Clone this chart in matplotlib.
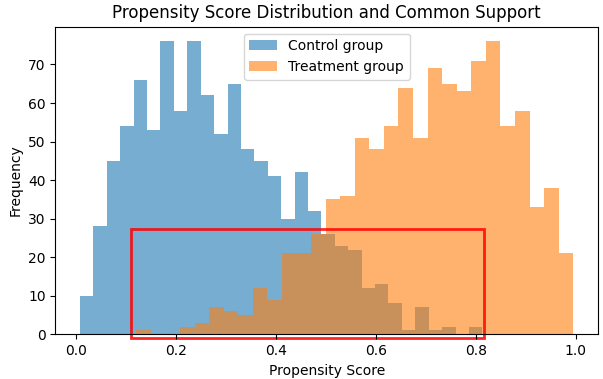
import numpy as np
import matplotlib
matplotlib.use("Agg")
import matplotlib.pyplot as plt
from matplotlib.patches import Rectangle

# Histogram bin ranges (30 equal bins each)
control_range = (0.008, 0.813)
treatment_range = (0.1206, 0.995)
control_counts = [10, 28, 45, 54, 66, 53, 76, 58, 76, 62, 52, 65, 48, 45, 41,
                  30, 42, 32, 26, 23, 22, 12, 13, 8, 1, 7, 1, 2, 0, 2]
treatment_counts = [1, 0, 0, 2, 3, 7, 6, 5, 12, 9, 21, 21, 26, 35, 36,
                    51, 48, 54, 64, 51, 69, 65, 63, 71, 76, 54, 58, 33, 38, 21]
# Common support box
support_x = (0.111, 0.8165)
support_y = (-1.0, 27.2)

fig = plt.figure(figsize=(6.03, 3.79), dpi=100)
ax = fig.add_axes([0.0917, 0.1179, 0.9, 0.8117])

c_edges = np.linspace(control_range[0], control_range[1], len(control_counts) + 1)
t_edges = np.linspace(treatment_range[0], treatment_range[1], len(treatment_counts) + 1)

ax.hist(c_edges[:-1], bins=c_edges, weights=control_counts, alpha=0.6,
        color='C0', label='Control group')
ax.hist(t_edges[:-1], bins=t_edges, weights=treatment_counts, alpha=0.6,
        color='C1', label='Treatment group')

rect = Rectangle((support_x[0], support_y[0]), support_x[1] - support_x[0],
                 support_y[1] - support_y[0], fill=False, edgecolor='red',
                 linewidth=2, alpha=0.85, clip_on=False)
ax.add_patch(rect)

ax.set_ylim(0, max(max(control_counts), max(treatment_counts)) * 1.05)
ax.set_title('Propensity Score Distribution and Common Support', fontsize=12)
ax.set_xlabel('Propensity Score')
ax.set_ylabel('Frequency')
ax.legend(loc='upper center')

fig.savefig('out.png', dpi=100)
